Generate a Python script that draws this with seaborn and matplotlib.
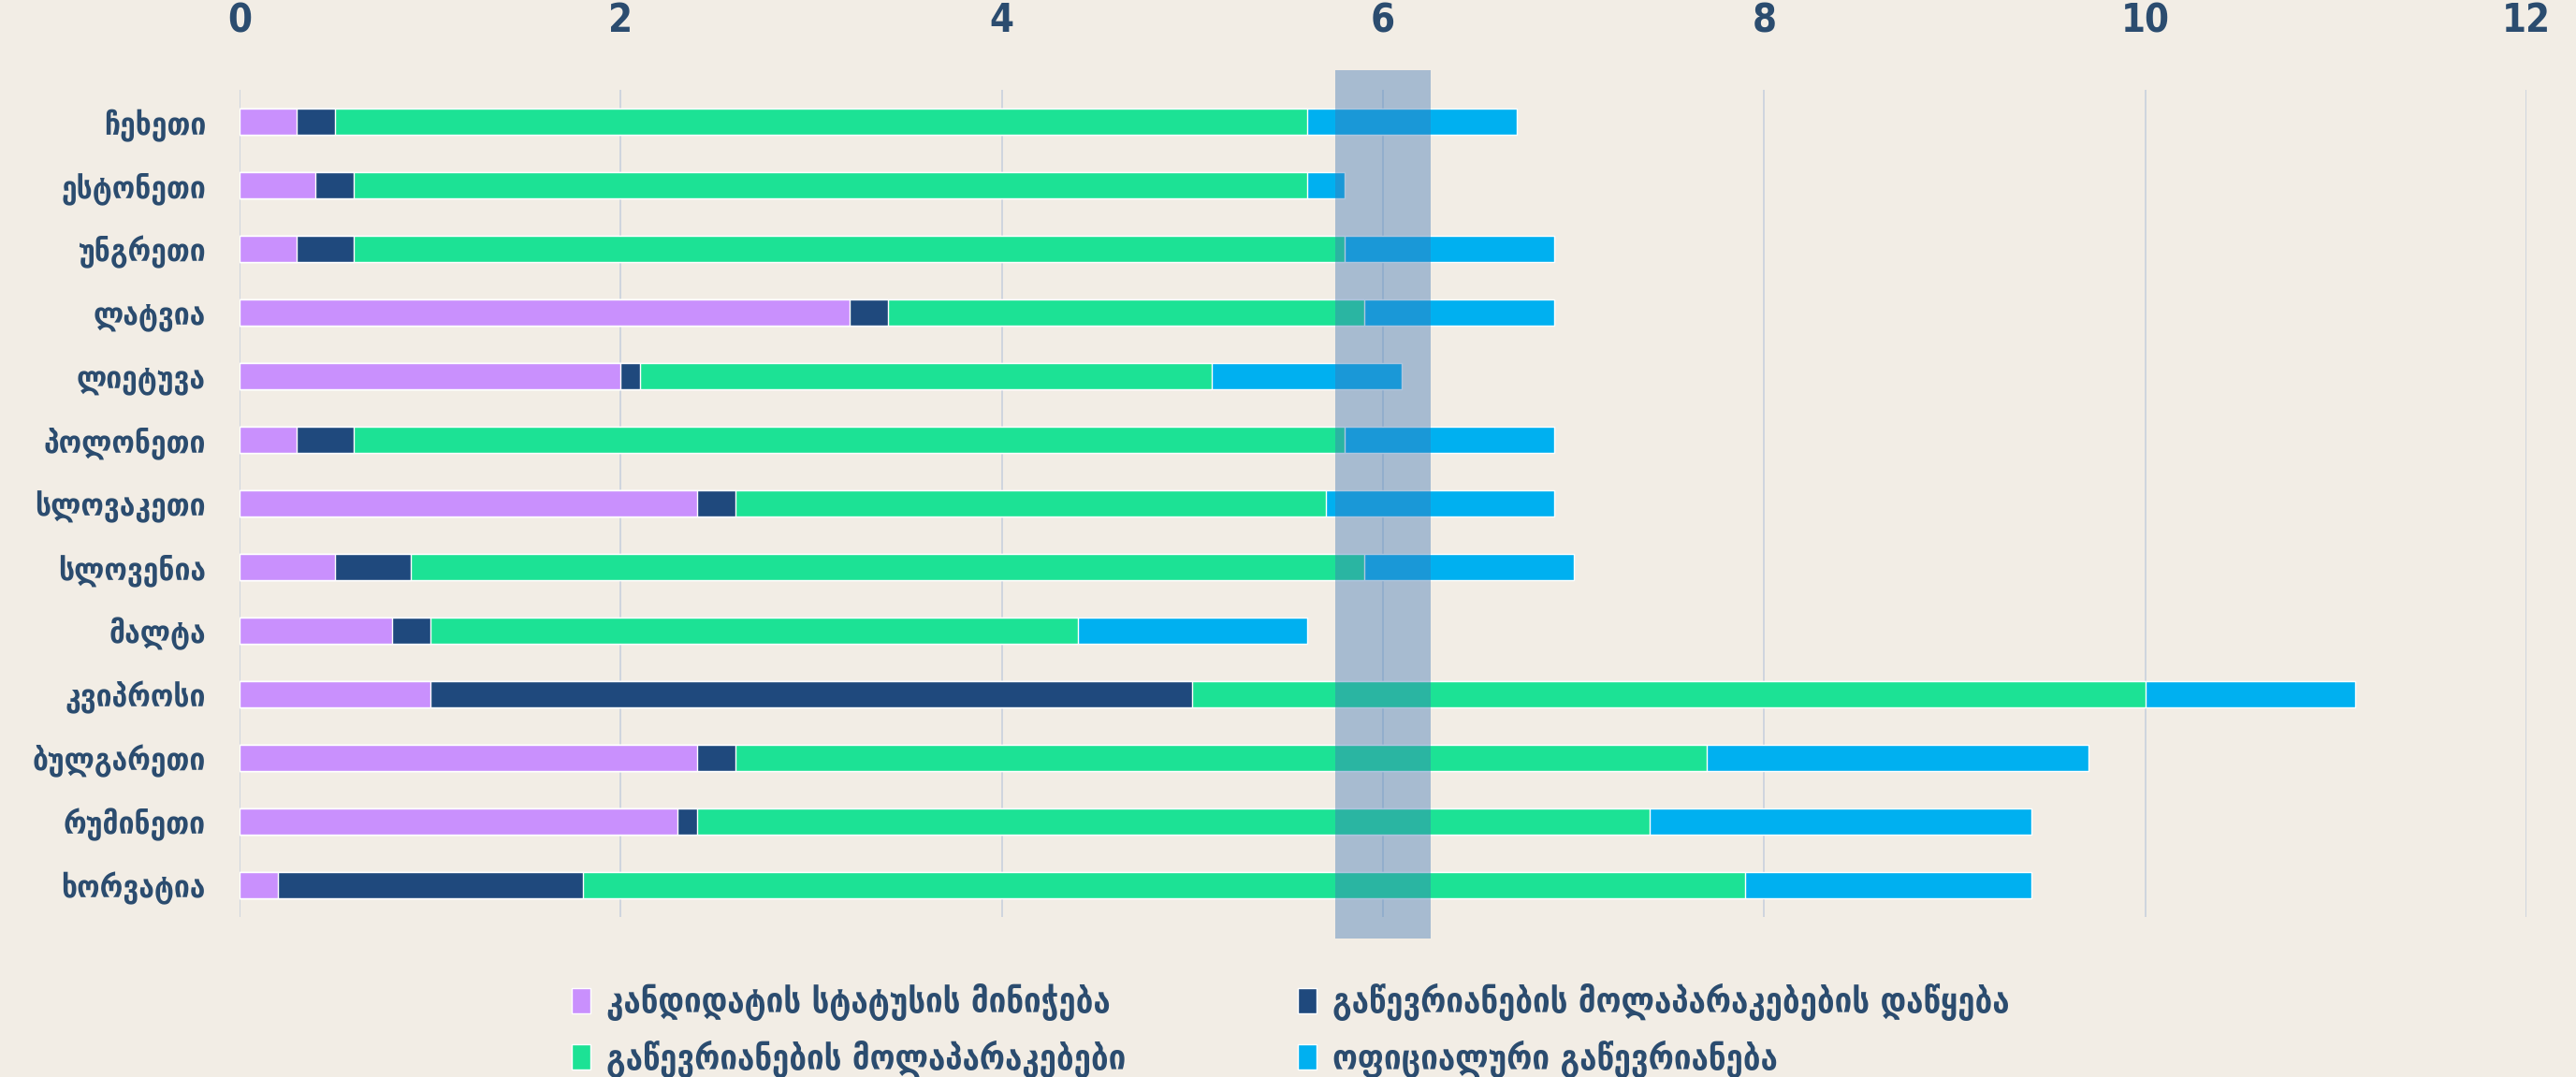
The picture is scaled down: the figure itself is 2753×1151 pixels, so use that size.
import numpy as np
import pandas as pd
import matplotlib.pyplot as plt
from matplotlib.patches import Patch
import seaborn as sns

countries = ["ჩეხეთი", "ესტონეთი", "უნგრეთი", "ლატვია", "ლიეტუვა", "პოლონეთი",
             "სლოვაკეთი", "სლოვენია", "მალტა", "კვიპროსი", "ბულგარეთი",
             "რუმინეთი", "ხორვატია"]

# years spent in each phase
candidate = [0.3, 0.4, 0.3, 3.2, 2.0, 0.3, 2.4, 0.5, 0.8, 1.0, 2.4, 2.3, 0.2]
talks_start = [0.2, 0.2, 0.3, 0.2, 0.1, 0.3, 0.2, 0.4, 0.2, 4.0, 0.2, 0.1, 1.6]
negotiations = [5.1, 5.0, 5.2, 2.5, 3.0, 5.2, 3.1, 5.0, 3.4, 5.0, 5.1, 5.0, 6.1]
accession = [1.1, 0.2, 1.1, 1.0, 1.0, 1.1, 1.2, 1.1, 1.2, 1.1, 2.0, 2.0, 1.5]

series_labels = ["კანდიდატის სტატუსის მინიჭება",
                 "გაწევრიანების მოლაპარაკებების დაწყება",
                 "გაწევრიანების მოლაპარაკებები",
                 "ოფიციალური გაწევრიანება"]
colors = ["#c990fd", "#1f497d", "#1ce295", "#00b0f0"]
x_ticks = [0, 2, 4, 6, 8, 10, 12]
band = (5.75, 6.25)

bg = "#f2ede5"
text_col = "#2b4c6f"

sns.set_style("white")
plt.rcParams["font.family"] = ["DejaVu Sans"]

segs = np.array([candidate, talks_start, negotiations, accession])
cum = segs.cumsum(axis=0)
df = pd.DataFrame({"country": countries})
for i in range(4):
    df[f"c{i}"] = cum[i]

fig = plt.figure(figsize=(27.53, 11.51), dpi=100, facecolor=bg)
ax = fig.add_axes([0.093, 0.1486, 0.8878, 0.768])
ax.set_facecolor(bg)

# draw longest layer first so shorter cumulative layers sit on top
for i in [3, 2, 1, 0]:
    sns.barplot(data=df, x=f"c{i}", y="country", orient="h", color=colors[i],
                saturation=1, width=0.4, ax=ax, zorder=2)

ax.set_xlim(0, 12)
ax.set_ylim(12.5, -0.5)
ax.set_xticks(x_ticks)
ax.xaxis.tick_top()
ax.grid(axis="x", color="#cfd5de", linewidth=1.4, zorder=0)
ax.grid(axis="y", visible=False)
ax.set_axisbelow(True)
for s in ax.spines.values():
    s.set_visible(False)
ax.set_xlabel("")
ax.set_ylabel("")
ax.tick_params(axis="x", length=0, pad=38, labelsize=30, labelcolor=text_col)
ax.tick_params(axis="y", length=0, pad=26, labelsize=24, labelcolor=text_col)
for lab in ax.get_xticklabels() + ax.get_yticklabels():
    lab.set_fontweight("bold")
    lab.set_fontstretch("condensed")

ax.axvspan(band[0], band[1], ymin=-0.026, ymax=1.024, color="#3f78b5",
           alpha=0.42, lw=0, zorder=3, clip_on=False)

handles = [Patch(facecolor=colors[i], label=series_labels[i]) for i in [0, 2, 1, 3]]
leg = fig.legend(handles=handles, loc="center", bbox_to_anchor=(0.501, 0.043),
                 ncol=2, frameon=False, handlelength=0.55, handleheight=0.75,
                 handletextpad=0.45, columnspacing=5.0, labelspacing=0.55,
                 prop={"size": 26.5, "weight": "bold", "stretch": "condensed"})
for t in leg.get_texts():
    t.set_color(text_col)

fig.savefig("out.png", dpi=100, facecolor=bg)
